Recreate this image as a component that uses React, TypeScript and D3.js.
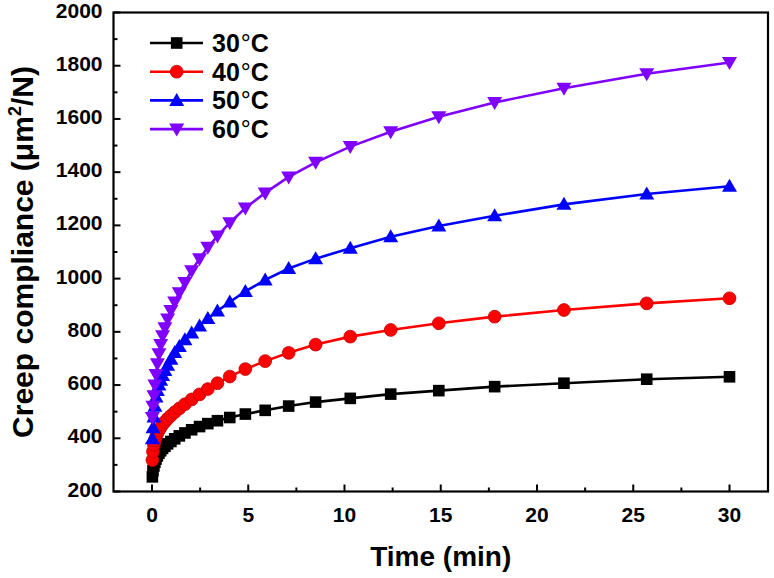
import React, { useRef, useEffect } from "react";
import * as d3 from "d3";

const W = 774;
const H = 578;
const margin = { top: 12.5, right: 6, bottom: 86.5, left: 113.5 };
const FONT = "'Liberation Sans', Arial, sans-serif";

// sampling times (min)
const times = [
  0.02, 0.05, 0.1, 0.15, 0.21, 0.28, 0.36, 0.45, 0.55, 0.67, 0.81, 0.98, 1.18, 1.42,
  1.71, 2.06, 2.47, 2.9, 3.4, 4.04, 4.85, 5.88, 7.1, 8.5, 10.3, 12.4, 14.9, 17.8, 21.4,
  25.7, 30,
];

// creep compliance (um^2/N)
const c30 = [
  255, 278, 296, 310, 322, 334, 344, 353, 362, 370, 379, 388, 398, 409, 420, 432, 444,
  455, 466, 478, 491, 505, 521, 536, 550, 566, 579, 594, 607, 622, 631,
];
const c40 = [
  318, 350, 375, 392, 406, 419, 430, 441, 452, 462, 473, 485, 498, 512, 528, 546, 565,
  585, 607, 632, 660, 690, 721, 752, 782, 807, 832, 857, 882, 907, 926,
];
const c50 = [
  398, 440, 480, 520, 555, 580, 600, 618, 636, 655, 674, 697, 722, 745, 770, 796, 822,
  850, 878, 912, 952, 995, 1038, 1075, 1114, 1157, 1198, 1236, 1279, 1318, 1347,
];
const c60 = [
  478, 520, 560, 600, 640, 680, 718, 752, 785, 815, 848, 880, 912, 947, 985, 1030, 1075,
  1118, 1160, 1210, 1265, 1322, 1382, 1437, 1496, 1552, 1608, 1662, 1715, 1770, 1812,
];

const seriesNames = ["30", "40", "50", "60"];
const seriesColors = ["#000000", "#ff0000", "#0000ff", "#7f00ff"];
const seriesSymbols = ["square", "circle", "triangleUp", "triangleDown"];

const xTicks = [0, 5, 10, 15, 20, 25, 30];
const yTicks = [200, 400, 600, 800, 1000, 1200, 1400, 1600, 1800, 2000];

function drawMarker(g, kind, cx, cy, color) {
  if (kind === "square") {
    g.append("rect").attr("x", cx - 5.8).attr("y", cy - 5.8).attr("width", 11.6).attr("height", 11.6)
      .attr("fill", color);
  } else if (kind === "circle") {
    g.append("circle").attr("cx", cx).attr("cy", cy).attr("r", 6.4)
      .attr("fill", color).attr("stroke", "#c00000").attr("stroke-width", 0.8);
  } else if (kind === "triangleUp") {
    g.append("path")
      .attr("d", `M${cx},${cy - 7.5}L${cx + 7.5},${cy + 5.5}L${cx - 7.5},${cy + 5.5}Z`)
      .attr("fill", color);
  } else {
    g.append("path")
      .attr("d", `M${cx},${cy + 7.5}L${cx + 7.5},${cy - 5.5}L${cx - 7.5},${cy - 5.5}Z`)
      .attr("fill", color);
  }
}

const App = () => {
  const svgRef = useRef(null);

  useEffect(() => {
    const svg = d3.select(svgRef.current);
    svg.selectAll("*").remove();

    const x = d3.scaleLinear().domain([-2, 32]).range([margin.left, W - margin.right]);
    const y = d3.scaleLinear().domain([200, 2000]).range([H - margin.bottom, margin.top]);

    const allSeries = [c30, c40, c50, c60];

    // Lines + markers
    allSeries.forEach((vals, i) => {
      const pts = times.map((t, k) => [t, vals[k]]);
      const line = d3.line().x((d) => x(d[0])).y((d) => y(d[1]));
      svg.append("path").datum(pts).attr("d", line).attr("fill", "none")
        .attr("stroke", seriesColors[i]).attr("stroke-width", 2.6);
      const mg = svg.append("g");
      pts.forEach((d) => drawMarker(mg, seriesSymbols[i], x(d[0]), y(d[1]), seriesColors[i]));
    });

    // Frame
    svg.append("rect")
      .attr("x", margin.left).attr("y", margin.top)
      .attr("width", W - margin.right - margin.left)
      .attr("height", H - margin.bottom - margin.top)
      .attr("fill", "none").attr("stroke", "#000").attr("stroke-width", 2.2);

    // X ticks (inward)
    const xb = H - margin.bottom;
    const xMinor = d3.range(2.5, 30, 5);
    xTicks.forEach((t) => {
      svg.append("line").attr("x1", x(t)).attr("x2", x(t)).attr("y1", xb).attr("y2", xb - 7)
        .attr("stroke", "#000").attr("stroke-width", 2);
      svg.append("text").attr("x", x(t)).attr("y", xb + 30).attr("text-anchor", "middle")
        .style("font-family", FONT).style("font-weight", "bold").style("font-size", "21px")
        .text(t);
    });
    xMinor.forEach((t) => {
      svg.append("line").attr("x1", x(t)).attr("x2", x(t)).attr("y1", xb).attr("y2", xb - 4)
        .attr("stroke", "#000").attr("stroke-width", 2);
    });

    // Y ticks (inward)
    const yl = margin.left;
    const yMinor = d3.range(300, 2000, 200);
    yTicks.forEach((v) => {
      svg.append("line").attr("x1", yl).attr("x2", yl + 7).attr("y1", y(v)).attr("y2", y(v))
        .attr("stroke", "#000").attr("stroke-width", 2);
      svg.append("text").attr("x", yl - 11).attr("y", y(v) + 5).attr("text-anchor", "end")
        .style("font-family", FONT).style("font-weight", "bold").style("font-size", "21px")
        .text(v);
    });
    yMinor.forEach((v) => {
      svg.append("line").attr("x1", yl).attr("x2", yl + 4).attr("y1", y(v)).attr("y2", y(v))
        .attr("stroke", "#000").attr("stroke-width", 2);
    });

    // Axis titles
    svg.append("text")
      .attr("x", (margin.left + W - margin.right) / 2).attr("y", 566)
      .attr("text-anchor", "middle")
      .style("font-family", FONT).style("font-weight", "bold").style("font-size", "28px")
      .text("Time (min)");

    const yt = svg.append("text")
      .attr("transform", `translate(33,${(margin.top + H - margin.bottom) / 2}) rotate(-90)`)
      .attr("text-anchor", "middle")
      .style("font-family", FONT).style("font-weight", "bold").style("font-size", "30px");
    yt.append("tspan").text("Creep compliance (μm");
    yt.append("tspan").attr("dy", -12).style("font-size", "18px").text("2");
    yt.append("tspan").attr("dy", 12).text("/N)");

    // Legend
    const legend = svg.append("g");
    seriesNames.forEach((name, i) => {
      const ly = 43 + i * 28.7;
      legend.append("line").attr("x1", 150).attr("x2", 203).attr("y1", ly).attr("y2", ly)
        .attr("stroke", seriesColors[i]).attr("stroke-width", 2.6);
      drawMarker(legend, seriesSymbols[i], 176.7, ly, seriesColors[i]);
      const lt = legend.append("text").attr("x", 212).attr("y", ly + 9)
        .style("font-family", FONT).style("font-weight", "bold").style("font-size", "25px");
      lt.append("tspan").text(name);
      lt.append("tspan").attr("dx", 1).style("font-weight", "normal").text("°");
      lt.append("tspan").text("C");
    });
  }, []);

  return (
    <svg
      ref={svgRef}
      width={W}
      height={H}
      style={{ position: "absolute", left: 0, top: 0, background: "#fff" }}
    />
  );
};

export default App;
